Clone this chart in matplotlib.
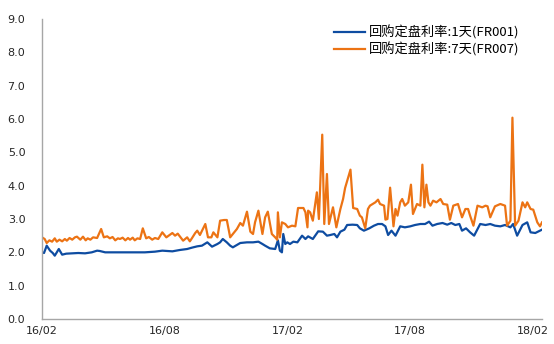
import matplotlib
matplotlib.use("Agg")
import matplotlib.pyplot as plt
import pandas as pd

plt.rcParams['font.family'] = ['Noto Sans CJK SC', 'DejaVu Sans']

# FR007 (7-day fixing repo rate)
fr007_dates = [
    "2016-02-01","2016-02-05","2016-02-08","2016-02-12","2016-02-16","2016-02-20","2016-02-23","2016-02-27",
    "2016-03-02","2016-03-06","2016-03-09","2016-03-13","2016-03-17","2016-03-21","2016-03-24","2016-03-29",
    "2016-04-02","2016-04-06","2016-04-09","2016-04-13","2016-04-17","2016-04-23","2016-04-29","2016-05-03",
    "2016-05-08","2016-05-12","2016-05-16","2016-05-20","2016-05-24","2016-05-27","2016-05-31","2016-06-04",
    "2016-06-08","2016-06-11","2016-06-15","2016-06-18","2016-06-22","2016-06-26","2016-06-30",
    "2016-07-05","2016-07-09","2016-07-14","2016-07-18","2016-07-23","2016-07-29","2016-08-04","2016-08-09",
    "2016-08-13","2016-08-17","2016-08-21","2016-08-29","2016-09-04","2016-09-08","2016-09-11","2016-09-16",
    "2016-09-19","2016-09-23","2016-10-01","2016-10-05","2016-10-10","2016-10-13","2016-10-19","2016-10-23",
    "2016-10-29","2016-11-02","2016-11-07","2016-11-11","2016-11-17","2016-11-22","2016-11-26","2016-12-02",
    "2016-12-07","2016-12-11","2016-12-14","2016-12-19","2016-12-25","2016-12-29","2017-01-02","2017-01-08",
    "2017-01-13","2017-01-16","2017-01-17","2017-01-20","2017-01-23","2017-01-28","2017-02-01","2017-02-07",
    "2017-02-12","2017-02-16","2017-02-24","2017-02-27","2017-03-02","2017-03-03","2017-03-06","2017-03-10",
    "2017-03-16","2017-03-19","2017-03-24","2017-03-27","2017-03-31","2017-04-03","2017-04-09","2017-04-14",
    "2017-04-20","2017-04-24","2017-04-27","2017-05-01","2017-05-05","2017-05-09","2017-05-15","2017-05-19",
    "2017-05-22","2017-05-27","2017-05-31","2017-06-03","2017-06-11","2017-06-15","2017-06-18","2017-06-24",
    "2017-06-26","2017-06-29","2017-07-03","2017-07-08","2017-07-11","2017-07-14","2017-07-18","2017-07-21",
    "2017-07-25","2017-07-30","2017-08-03","2017-08-06","2017-08-12","2017-08-17","2017-08-20","2017-08-23",
    "2017-08-26","2017-08-29","2017-09-01","2017-09-05","2017-09-10","2017-09-16","2017-09-20","2017-09-26",
    "2017-09-30","2017-10-05","2017-10-12","2017-10-18","2017-10-23","2017-10-27","2017-10-30","2017-11-04",
    "2017-11-10","2017-11-17","2017-11-22","2017-11-25","2017-11-29","2017-12-06","2017-12-14","2017-12-21",
    "2017-12-24","2017-12-29","2018-01-01","2018-01-05","2018-01-10","2018-01-16","2018-01-20","2018-01-23",
    "2018-01-28","2018-02-01","2018-02-07","2018-02-11","2018-02-14",
]
fr007_values = [
    2.45, 2.40, 2.28, 2.36, 2.32, 2.42, 2.32, 2.38,
    2.33, 2.40, 2.35, 2.43, 2.38, 2.45, 2.47, 2.38,
    2.47, 2.36, 2.42, 2.38, 2.45, 2.43, 2.70, 2.45,
    2.48, 2.42, 2.46, 2.36, 2.42, 2.40, 2.44, 2.36,
    2.43, 2.38, 2.44, 2.36, 2.42, 2.40, 2.72,
    2.42, 2.46, 2.38, 2.43, 2.40, 2.60, 2.45, 2.52,
    2.58, 2.50, 2.56, 2.35, 2.45, 2.33, 2.42, 2.58,
    2.65, 2.52, 2.85, 2.45, 2.45, 2.60, 2.45, 2.95,
    2.97, 2.97, 2.45, 2.55, 2.70, 2.88, 2.80, 3.22,
    2.62, 2.55, 2.90, 3.25, 2.55, 3.05, 3.22, 2.55,
    2.45, 2.38, 3.20, 2.45, 2.90, 2.85, 2.75, 2.80,
    2.78, 3.33, 3.33, 3.20, 2.75, 3.25, 3.20, 2.95,
    3.80, 3.00, 5.53, 2.85, 4.35, 2.85, 3.35, 2.75,
    3.30, 3.60, 3.93, 4.20, 4.48, 3.33, 3.30, 3.10,
    3.05, 2.72, 3.30, 3.40, 3.50, 3.58, 3.45, 3.40,
    2.98, 3.00, 3.94, 2.78, 3.30, 3.10, 3.50, 3.60,
    3.40, 3.50, 4.03, 3.15, 3.45, 3.40, 4.63, 3.35,
    4.03, 3.50, 3.40, 3.55, 3.50, 3.60, 3.45, 3.43,
    2.98, 3.40, 3.45, 3.05, 3.30, 3.30, 3.10, 2.80,
    3.40, 3.35, 3.40, 3.38, 3.05, 3.38, 3.45, 3.40,
    2.80, 2.95, 6.04, 2.80, 2.95, 3.50, 3.35, 3.50,
    3.30, 3.28, 2.90, 2.78, 2.90,
]

# FR001 (1-day fixing repo rate)
fr001_dates = [
    "2016-02-01","2016-02-04","2016-02-08","2016-02-13","2016-02-17","2016-02-20","2016-02-26","2016-03-02",
    "2016-03-08","2016-03-17","2016-03-26","2016-04-05","2016-04-15","2016-04-23","2016-04-27","2016-05-05",
    "2016-05-20","2016-06-04","2016-06-18","2016-07-03","2016-07-18","2016-07-29","2016-08-13","2016-08-24",
    "2016-09-04","2016-09-11","2016-09-19","2016-09-26","2016-10-04","2016-10-11","2016-10-19","2016-10-23",
    "2016-10-27","2016-11-02","2016-11-07","2016-11-11","2016-11-22","2016-12-02","2016-12-11","2016-12-19",
    "2016-12-25","2016-12-29","2017-01-05","2017-01-13","2017-01-17","2017-01-20","2017-01-23","2017-01-25",
    "2017-01-28","2017-01-31","2017-02-04","2017-02-09","2017-02-15","2017-02-22","2017-02-27","2017-03-03",
    "2017-03-10","2017-03-18","2017-03-25","2017-03-31","2017-04-05","2017-04-11","2017-04-15","2017-04-20",
    "2017-04-26","2017-04-30","2017-05-08","2017-05-15","2017-05-19","2017-05-25","2017-06-02","2017-06-09",
    "2017-06-15","2017-06-21","2017-06-26","2017-06-30","2017-07-05","2017-07-11","2017-07-18","2017-07-25",
    "2017-08-02","2017-08-09","2017-08-17","2017-08-24","2017-08-30","2017-09-04","2017-09-11","2017-09-19",
    "2017-09-26","2017-10-02","2017-10-08","2017-10-14","2017-10-18","2017-10-24","2017-10-30","2017-11-05",
    "2017-11-14","2017-11-22","2017-11-29","2017-12-06","2017-12-14","2017-12-21","2017-12-29","2018-01-02",
    "2018-01-08","2018-01-16","2018-01-23","2018-01-28","2018-02-04","2018-02-14",
]
fr001_values = [
    2.00, 1.98, 2.20, 2.05, 1.98, 1.90, 2.10, 1.93,
    1.96, 1.97, 1.98, 1.97, 2.00, 2.05, 2.04, 2.00,
    2.00, 2.00, 2.00, 2.00, 2.02, 2.05, 2.03, 2.07,
    2.10, 2.14, 2.18, 2.20, 2.30, 2.17, 2.25, 2.30,
    2.40, 2.30, 2.20, 2.15, 2.28, 2.30, 2.30, 2.32,
    2.25, 2.20, 2.12, 2.10, 2.36, 2.05, 2.00, 2.55,
    2.25, 2.30, 2.25, 2.32, 2.30, 2.50, 2.40, 2.48,
    2.40, 2.63, 2.62, 2.50, 2.52, 2.55, 2.45, 2.62,
    2.68, 2.82, 2.83, 2.82, 2.72, 2.65, 2.72, 2.80,
    2.85, 2.85, 2.78, 2.52, 2.65, 2.50, 2.78, 2.75,
    2.78, 2.82, 2.85, 2.85, 2.92, 2.80, 2.85, 2.88,
    2.83, 2.88, 2.82, 2.85, 2.65, 2.72, 2.60, 2.50,
    2.85, 2.82, 2.85, 2.80, 2.78, 2.82, 2.75, 2.85,
    2.50, 2.82, 2.90, 2.60, 2.58, 2.68,
]

labels = ["回购定盘利率:1天(FR001)", "回购定盘利率:7天(FR007)"]
tick_dates = ["2016-02-01", "2016-08-01", "2017-02-01", "2017-08-01", "2018-02-01"]
tick_labels = ["16/02", "16/08", "17/02", "17/08", "18/02"]
y_ticks = [0, 1, 2, 3, 4, 5, 6, 7, 8, 9]

blue = "#0E4CA1"
orange = "#EC7314"

fig = plt.figure(figsize=(5.54, 3.44), dpi=100)
ax = fig.add_axes([42/554, 1 - 319/344, 500/554, 300/344])

ax.plot(pd.to_datetime(fr001_dates), fr001_values, color=blue, lw=1.6, label=labels[0])
ax.plot(pd.to_datetime(fr007_dates), fr007_values, color=orange, lw=1.6, label=labels[1])

ax.set_ylim(0, 9)
ax.set_yticks(y_ticks)
ax.set_yticklabels([f"{v:.1f}" for v in y_ticks])
ax.set_xlim(pd.Timestamp("2016-02-01"), pd.Timestamp("2018-02-14"))
ax.set_xticks(pd.to_datetime(tick_dates))
ax.set_xticklabels(tick_labels)

for s in ["top", "right"]:
    ax.spines[s].set_visible(False)
for s in ["left", "bottom"]:
    ax.spines[s].set_color("#A6A6A6")
    ax.spines[s].set_linewidth(1.0)
ax.tick_params(axis="both", length=0, labelsize=8, colors="#404040")
ax.tick_params(axis="y", pad=12)
ax.tick_params(axis="x", pad=5)
for t in ax.get_xticklabels() + ax.get_yticklabels():
    t.set_family(["DejaVu Sans"])
    t.set_color("#262626")

leg = ax.legend(loc="upper left", bbox_to_anchor=(0.574, 0.997), frameon=False,
                fontsize=9.5, handlelength=2.3, handletextpad=0.35, labelspacing=0.2,
                borderaxespad=0)

fig.savefig("out.png", dpi=100)
